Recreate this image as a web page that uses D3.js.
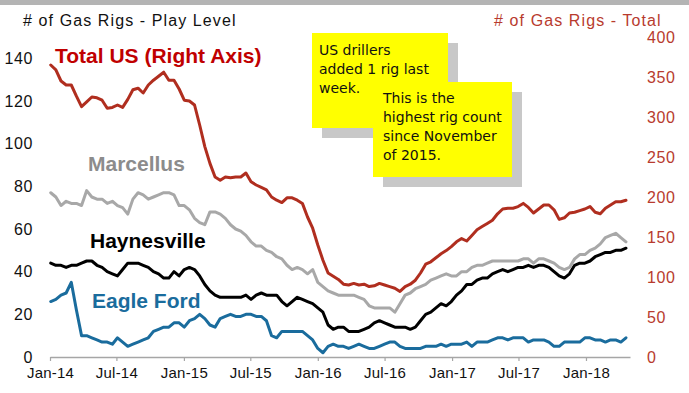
<!DOCTYPE html>
<html>
<head>
<meta charset="utf-8">
<script src="https://cdn.jsdelivr.net/npm/d3@7"></script>
<style>
  body { margin: 0; background: #fff; }
  svg { display: block; }
</style>
</head>
<body>
<svg id="chart" width="689" height="393"></svg>
<script>
// Weekly gas rig counts, sampled every two weeks from 3 Jan 2014.
const totalUS = [
  365,359,345,340,340,326,313,319,325,324,
  321,311,312,315,312,322,334,336,330,340,
  346,351,356,346,346,335,321,320,315,290,
  263,242,225,221,225,224,225,225,230,219,
  215,212,209,200,196,193,199,199,196,192,
  175,161,140,121,105,101,97,91,90,92,
  90,91,88,89,92,90,88,86,82,88,
  91,96,105,116,119,124,129,133,138,144,
  148,145,152,159,163,167,171,179,185,186,
  186,188,192,187,180,185,190,190,184,172,
  174,180,181,183,185,188,181,179,186,190,
  194,194,196
];
const marcellus = [
  77,75,71,73,72,72,71,78,75,74,
  74,72,73,71,70,67,74,77,76,74,
  75,76,77,77,76,71,71,69,65,63,
  62,68,68,67,65,62,60,59,57,54,
  52,52,50,49,47,46,43,41,42,41,
  39,41,35,33,31,30,29,29,29,29,
  28,27,24,23,23,23,23,21,25,29,
  30,32,33,34,36,37,38,39,38,38,
  40,40,42,43,43,44,45,45,45,45,
  45,45,46,46,44,46,46,45,44,42,
  41,42,46,48,48,50,51,53,56,57,
  58,56,54
];
const haynesville = [
  44,43,43,42,43,43,44,45,45,43,
  42,40,39,38,41,44,44,44,43,42,
  40,39,37,37,40,38,41,42,41,38,
  34,31,29,28,28,28,28,28,29,27,
  29,30,29,29,29,26,24,26,28,27,
  26,25,23,21,15,13,14,14,12,12,
  12,13,14,16,17,16,15,14,14,14,
  13,14,17,20,21,23,25,24,26,29,
  31,34,34,36,37,37,39,40,41,40,
  41,42,42,43,42,43,43,42,40,38,
  37,39,43,44,44,45,47,48,49,49,
  50,50,51
];
const eagleFord = [
  26,27,29,30,35,22,10,10,9,8,
  7,7,6,9,7,5,6,7,8,9,
  12,13,14,14,16,16,14,17,18,20,
  18,15,14,18,19,20,19,19,20,20,
  19,19,17,10,9,12,12,12,12,12,
  10,8,4,2,5,6,5,5,4,5,
  6,5,4,4,5,6,7,7,5,4,
  4,4,4,5,5,5,6,5,6,6,
  6,7,5,7,7,7,8,9,9,8,
  9,9,9,7,8,8,8,7,5,5,
  7,7,7,7,9,9,8,8,7,8,
  8,7,9
];

const leftTicks = [0, 20, 40, 60, 80, 100, 120, 140];
const rightTicks = [0, 50, 100, 150, 200, 250, 300, 350, 400];
const xTickLabels = ["Jan-14","Jul-14","Jan-15","Jul-15","Jan-16","Jul-16","Jan-17","Jul-17","Jan-18"];
const leftTitle = "# of Gas Rigs - Play Level";
const rightTitle = "# of Gas Rigs - Total";
const noteLines = [
  ["US drillers", "added 1 rig last", "week."],
  ["This is the", "highest rig count", "since November", "of 2015."]
];

const firstWeek = new Date(2014, 0, 3);
const dates = totalUS.map((_, i) => d3.timeDay.offset(firstWeek, 14 * i));
const parseTick = d3.timeParse("%b-%y");
const xTickDates = xTickLabels.map(parseTick);

const svg = d3.select("#chart");
const W = 689, H = 393;
const plot = { left: 50, right: 630, top: 37, bottom: 357 };
const font = "'Liberation Sans', Arial, sans-serif";

const x = d3.scaleTime()
  .domain([new Date(2014, 0, 1), new Date(2018, 4, 1)])
  .range([plot.left, plot.right]);
const yLeft = d3.scaleLinear().domain([0, 150]).range([plot.bottom, plot.top]);
const yRight = d3.scaleLinear().domain([0, 400]).range([plot.bottom, plot.top]);

// background and top band
svg.append("rect").attr("width", W).attr("height", H).attr("fill", "#fff");
svg.append("rect").attr("width", W).attr("height", 5).attr("fill", "#b4b4b4");

// axis titles
svg.append("text")
  .attr("x", 23).attr("y", 26)
  .attr("font-family", font).attr("font-size", 16)
  .attr("letter-spacing", 1.1).attr("fill", "#111")
  .text(leftTitle);
svg.append("text")
  .attr("x", 494).attr("y", 26)
  .attr("font-family", font).attr("font-size", 16)
  .attr("letter-spacing", 1.1).attr("fill", "#b83b2e")
  .text(rightTitle);

// left axis
const gLeft = svg.append("g")
  .attr("transform", `translate(${plot.left},0)`)
  .call(d3.axisLeft(yLeft).tickValues(leftTicks).tickSize(0).tickPadding(17));
gLeft.select(".domain").remove();
gLeft.selectAll("text")
  .attr("font-family", font).attr("font-size", 16)
  .attr("letter-spacing", 0.6).attr("fill", "#111");

// right axis
const gRight = svg.append("g")
  .attr("transform", `translate(${plot.right},0)`)
  .call(d3.axisRight(yRight).tickValues(rightTicks).tickSize(0).tickPadding(17));
gRight.select(".domain").remove();
gRight.selectAll("text")
  .attr("font-family", font).attr("font-size", 16)
  .attr("letter-spacing", 0.6).attr("fill", "#b83b2e");

// bottom axis
const gX = svg.append("g")
  .attr("transform", `translate(0,${plot.bottom})`)
  .call(d3.axisBottom(x).tickValues(xTickDates)
    .tickFormat((d, i) => xTickLabels[i]).tickSize(4).tickSizeOuter(0).tickPadding(6));
gX.select(".domain").attr("stroke", "#a6a6a6").attr("stroke-width", 1.5);
gX.selectAll(".tick line").attr("stroke", "#a6a6a6").attr("stroke-width", 1.2);
gX.selectAll("text")
  .attr("font-family", font).attr("font-size", 15)
  .attr("letter-spacing", 0.2).attr("fill", "#111");

// lines
const series = [
  { name: "Eagle Ford", values: eagleFord, scale: yLeft, color: "#1a6c9d" },
  { name: "Haynesville", values: haynesville, scale: yLeft, color: "#000000" },
  { name: "Marcellus", values: marcellus, scale: yLeft, color: "#a8a8a8" },
  { name: "Total US (Right Axis)", values: totalUS, scale: yRight, color: "#b02e1f" }
];
series.forEach(s => {
  const line = d3.line()
    .x((d, i) => x(dates[i]))
    .y(d => s.scale(d));
  svg.append("path")
    .datum(s.values)
    .attr("d", line)
    .attr("fill", "none")
    .attr("stroke", s.color)
    .attr("stroke-width", 3)
    .attr("stroke-linejoin", "round")
    .attr("stroke-linecap", "round");
});

// series labels
const labels = [
  { text: "Total US (Right Axis)", x: 55, y: 63, color: "#c00000" },
  { text: "Marcellus", x: 88, y: 171, color: "#8c8c8c" },
  { text: "Haynesville", x: 90, y: 248, color: "#000000" },
  { text: "Eagle Ford", x: 92, y: 308, color: "#1a6c9d" }
];
svg.selectAll("text.series-label")
  .data(labels).enter().append("text")
  .attr("class", "series-label")
  .attr("x", d => d.x).attr("y", d => d.y)
  .attr("font-family", font).attr("font-size", 21).attr("font-weight", "bold")
  .attr("fill", d => d.color)
  .text(d => d.text);

// callout boxes with drop shadow
const boxes = [
  { x: 312, y: 33, w: 136, h: 95, tx: 319, ty: 55, lines: noteLines[0] },
  { x: 373, y: 82, w: 139, h: 95, tx: 383, ty: 103, lines: noteLines[1] }
];
boxes.forEach(b => {
  svg.append("rect").attr("x", b.x + 10).attr("y", b.y + 10)
    .attr("width", b.w).attr("height", b.h).attr("fill", "#c8c8c8");
  svg.append("rect").attr("x", b.x).attr("y", b.y)
    .attr("width", b.w).attr("height", b.h).attr("fill", "#ffff00");
  const t = svg.append("text")
    .attr("font-family", "'Comic Sans MS', 'DejaVu Sans', sans-serif")
    .attr("font-size", 14).attr("fill", "#111");
  b.lines.forEach((ln, i) => {
    t.append("tspan").attr("x", b.tx).attr("y", b.ty + i * 19).text(ln);
  });
});
</script>
</body>
</html>
